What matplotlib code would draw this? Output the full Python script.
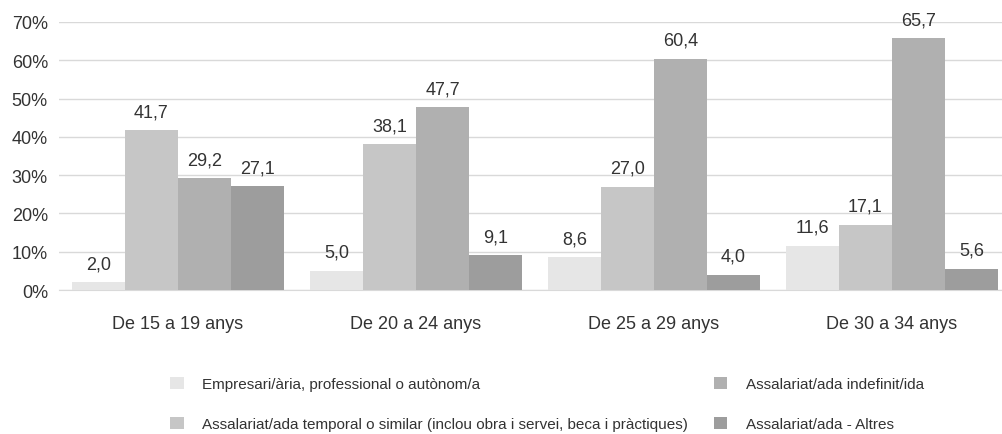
import matplotlib.pyplot as plt
import numpy as np

plt.rcParams['font.family'] = ['Liberation Sans', 'DejaVu Sans']

grups = ['De 15 a 19 anys', 'De 20 a 24 anys', 'De 25 a 29 anys', 'De 30 a 34 anys']
series = [
    'Empresari/ària, professional o autònom/a',
    'Assalariat/ada temporal o similar (inclou obra i servei, beca i pràctiques)',
    'Assalariat/ada indefinit/ida',
    'Assalariat/ada - Altres',
]
empresari = [2.0, 5.0, 8.6, 11.6]
temporal = [41.7, 38.1, 27.0, 17.1]
indefinit = [29.2, 47.7, 60.4, 65.7]
altres = [27.1, 9.1, 4.0, 5.6]
colors = ['#e6e6e6', '#c6c6c6', '#b0b0b0', '#9d9d9d']
text_color = '#333333'

valors = [empresari, temporal, indefinit, altres]

fig = plt.figure(figsize=(10.02, 4.35), dpi=100)
ax = fig.add_axes([59 / 1002, (435 - 291) / 435, 952 / 1002, 268 / 435])

x = np.arange(len(grups))
w = 0.223
handles = []
for i, (vals, col) in enumerate(zip(valors, colors)):
    pos = x + (i - 1.5) * w
    b = ax.bar(pos, vals, width=w, color=col, label=series[i], zorder=3)
    handles.append(b)
    for p, v in zip(pos, vals):
        ax.text(p, v + 2.6, f'{v:.1f}'.replace('.', ','), ha='center', va='bottom',
                fontsize=13, color=text_color)

ax.set_xlim(-0.5, 3.5)
ax.set_ylim(0, 70)
ax.set_yticks(np.arange(0, 71, 10))
ax.set_yticklabels([f'{t}%' for t in range(0, 71, 10)])
ax.set_xticks(x)
ax.set_xticklabels(grups)
ax.tick_params(axis='both', length=0, labelsize=13, colors=text_color)
ax.tick_params(axis='x', pad=18)
ax.tick_params(axis='y', pad=8)
ax.grid(axis='y', color='#d9d9d9', linewidth=1, zorder=0)
for s in ['top', 'right', 'left']:
    ax.spines[s].set_visible(False)
ax.spines['bottom'].set_color('#d9d9d9')

fig.legend(handles=handles, labels=series, ncol=2, frameon=False,
           loc='upper left', bbox_to_anchor=(156 / 1002, 1 - 364 / 435),
           fontsize=11, handlelength=0.9, handleheight=0.9, handletextpad=1.2,
           columnspacing=1.7, labelspacing=1.65, labelcolor=text_color)

fig.savefig('out.png', dpi=100)
